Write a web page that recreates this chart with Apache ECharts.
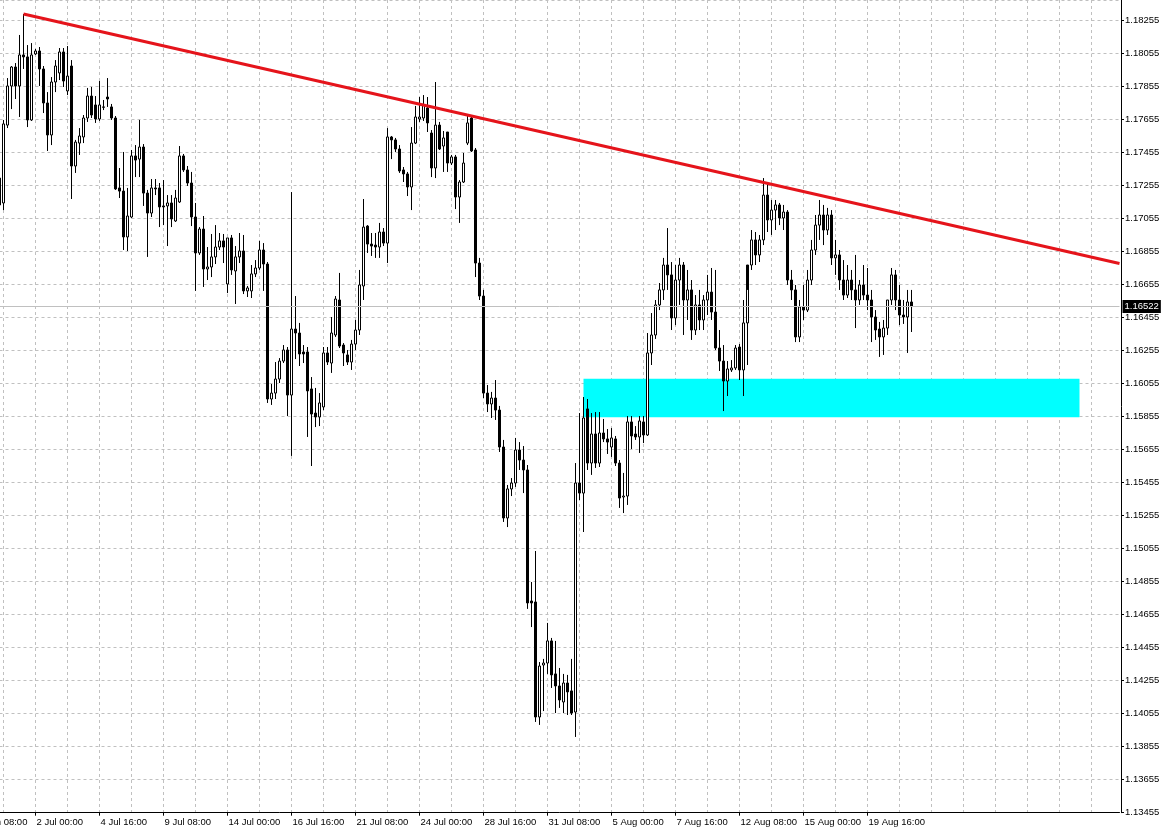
<!DOCTYPE html>
<html><head><meta charset="utf-8">
<script src="https://cdn.jsdelivr.net/npm/echarts@6/dist/echarts.min.js"></script>
<style>html,body{margin:0;padding:0;background:#fff;overflow:hidden}#c{width:1166px;height:833px}</style>
</head><body><div id="c"></div>
<script>
// H4 EURUSD-style bars. Slot 0 = 27 Jun 00:00; candles start at slot 9.
const firstSlotTime = '2025-06-27T00:00:00Z';
const slotCount = 290;
const firstCandleSlot = 9;

const opens = [
1.17301,1.17150,1.17622,1.17859,1.17974,1.17859,1.18047,1.18035,1.17653,1.18053,1.18071,
1.17962,1.17756,1.17562,1.17883,1.17938,1.18065,1.17829,1.17980,1.17374,1.17513,
1.17550,1.17665,1.17798,1.17744,1.17659,1.17732,1.17792,1.17732,1.17665,1.17241,
1.17222,1.16944,1.17065,1.17435,1.17416,1.17489,1.17210,1.17089,1.17241,1.17241,
1.17132,1.17132,1.17150,1.17041,1.17156,1.17435,1.17350,1.17271,1.17065,1.16847,
1.16992,1.16750,1.16762,1.16823,1.16883,1.16920,1.16659,1.16938,1.16738,1.16823,
1.16859,1.16617,1.16617,1.16720,1.16756,1.16865,1.16780,1.15962,1.15998,1.16083,
1.16192,1.16259,1.15986,1.16386,1.16362,1.16247,1.16247,1.16023,1.15877,1.15853,
1.15914,1.16241,1.16180,1.16350,1.16562,1.16289,1.16229,1.16186,1.16295,1.16380,
1.16647,1.17010,1.16901,1.16895,1.16883,1.16974,1.16907,1.17550,1.17532,1.17477,
1.17350,1.17326,1.17247,1.17513,1.17659,1.17665,1.17726,1.17574,1.17362,1.17622,
1.17495,1.17580,1.17392,1.17429,1.17186,1.17277,1.17513,1.17665,1.17471,1.16786,
1.16586,1.15998,1.15932,1.15968,1.15895,1.15671,1.15241,1.15417,1.15453,1.15653,
1.15592,1.15532,1.14738,1.14732,1.14035,1.14350,1.14362,1.14496,1.14296,1.14223,
1.14126,1.14241,1.14193,1.14065,1.15453,1.15392,1.15902,1.15574,1.15750,1.15574,
1.15756,1.15720,1.15671,1.15720,1.15574,1.15368,1.15374,1.15823,1.15750,1.15732,
1.15823,1.15744,1.16241,1.16350,1.16532,1.16623,1.16774,1.16714,1.16453,1.16683,
1.16774,1.16562,1.16623,1.16380,1.16532,1.16441,1.16562,1.16610,1.16489,1.16271,
1.16192,1.16071,1.16138,1.16150,1.16277,1.16138,1.16423,1.16774,1.16926,1.16835,
1.16926,1.17198,1.17047,1.17107,1.17138,1.17059,1.17095,1.16683,1.16623,1.16338,
1.16520,1.16501,1.16683,1.16865,1.17016,1.17077,1.16986,1.17077,1.16817,1.16835,
1.16683,1.16592,1.16683,1.16623,1.16562,1.16653,1.16592,1.16562,1.16459,1.16386,
1.16338,1.16392,1.16562,1.16714,1.16562,1.16471,1.16459,1.16550];

const highs = [
1.17350,1.17653,1.17907,1.17980,1.17998,1.18168,1.18295,1.18107,1.18119,1.18083,1.18095,
1.17980,1.17822,1.17913,1.18016,1.18089,1.18089,1.18101,1.18016,1.17532,1.17604,
1.17683,1.17847,1.17853,1.17798,1.17889,1.17774,1.17907,1.17750,1.17677,1.17362,
1.17459,1.17241,1.17471,1.17501,1.17653,1.17507,1.17229,1.17295,1.17295,1.17271,
1.17289,1.17198,1.17198,1.17229,1.17495,1.17447,1.17374,1.17338,1.17150,1.17004,
1.17071,1.16883,1.16962,1.17016,1.16968,1.16962,1.16938,1.16956,1.16889,1.16968,
1.16956,1.16647,1.16774,1.16804,1.16920,1.16907,1.16792,1.16053,1.16186,1.16210,
1.16289,1.16277,1.17216,1.16586,1.16423,1.16289,1.16277,1.16095,1.16029,1.15998,
1.16277,1.16277,1.16459,1.16586,1.16726,1.16301,1.16259,1.16320,1.16441,1.16744,
1.17174,1.17016,1.16968,1.16968,1.17029,1.16998,1.17604,1.17556,1.17544,1.17501,
1.17368,1.17338,1.17610,1.17738,1.17792,1.17804,1.17792,1.17592,1.17883,1.17641,
1.17586,1.17580,1.17441,1.17441,1.17289,1.17453,1.17683,1.17671,1.17483,1.16817,
1.16623,1.16047,1.16005,1.16077,1.15920,1.15714,1.15441,1.15483,1.15726,1.15701,
1.15677,1.15562,1.14853,1.15041,1.14368,1.14387,1.14605,1.14514,1.14496,1.14332,
1.14296,1.14290,1.14387,1.15574,1.15877,1.15974,1.15962,1.15877,1.15883,1.15883,
1.15841,1.15780,1.15786,1.15738,1.15592,1.15514,1.15859,1.15859,1.15798,1.15859,
1.15859,1.16362,1.16483,1.16562,1.16665,1.16817,1.16998,1.16792,1.16774,1.16817,
1.16792,1.16744,1.16683,1.16592,1.16623,1.16592,1.16714,1.16756,1.16744,1.16380,
1.16289,1.16192,1.16198,1.16289,1.16295,1.16562,1.16623,1.16986,1.16974,1.16956,
1.17301,1.17271,1.17168,1.17168,1.17150,1.17138,1.17107,1.16744,1.16653,1.16562,
1.16653,1.16744,1.16926,1.17077,1.17168,1.17138,1.17120,1.17107,1.16926,1.16865,
1.16804,1.16774,1.16744,1.16835,1.16683,1.16774,1.16756,1.16623,1.16501,1.16429,
1.16441,1.16562,1.16756,1.16744,1.16653,1.16562,1.16623,1.16623];

const lows = [
1.17095,1.17107,1.17604,1.17719,1.17780,1.17671,1.17962,1.17610,1.17647,1.18047,1.17859,
1.17695,1.17465,1.17501,1.17822,1.17895,1.17853,1.17804,1.17174,1.17332,1.17441,
1.17513,1.17641,1.17665,1.17635,1.17647,1.17713,1.17732,1.17653,1.17229,1.17180,
1.16865,1.16859,1.17059,1.17307,1.17307,1.17132,1.16823,1.17065,1.17198,1.17004,
1.17016,1.16889,1.17004,1.17035,1.17150,1.17338,1.17253,1.17010,1.16617,1.16835,
1.16641,1.16683,1.16701,1.16780,1.16865,1.16786,1.16604,1.16714,1.16538,1.16786,
1.16598,1.16580,1.16574,1.16701,1.16744,1.16617,1.15938,1.15926,1.15962,1.16059,
1.16180,1.15859,1.15617,1.16204,1.16162,1.16180,1.15732,1.15556,1.15792,1.15798,
1.15895,1.16168,1.16120,1.16338,1.16271,1.16162,1.16168,1.16138,1.16259,1.16350,
1.16562,1.16847,1.16829,1.16817,1.16817,1.16889,1.16786,1.17416,1.17459,1.17332,
1.17277,1.17192,1.17107,1.17507,1.17641,1.17647,1.17580,1.17307,1.17301,1.17471,
1.17338,1.17338,1.17380,1.17113,1.17029,1.17271,1.17501,1.17459,1.16701,1.16562,
1.15968,1.15883,1.15847,1.15835,1.15641,1.15217,1.15186,1.15374,1.15429,1.15532,
1.15392,1.14690,1.14580,1.14005,1.13987,1.14071,1.14296,1.14211,1.14059,1.14090,
1.14059,1.14047,1.14047,1.13914,1.15350,1.15156,1.15532,1.15502,1.15544,1.15550,
1.15701,1.15629,1.15611,1.15556,1.15302,1.15271,1.15320,1.15659,1.15714,1.15635,
1.15695,1.15738,1.16168,1.16326,1.16501,1.16562,1.16623,1.16380,1.16410,1.16532,
1.16350,1.16441,1.16320,1.16350,1.16380,1.16380,1.16471,1.16441,1.16259,1.16132,
1.15889,1.15980,1.16126,1.16138,1.16077,1.15980,1.16168,1.16744,1.16774,1.16792,
1.16895,1.16974,1.16956,1.16986,1.17016,1.16986,1.16653,1.16562,1.16307,1.16307,
1.16441,1.16489,1.16653,1.16835,1.16926,1.16895,1.16956,1.16774,1.16714,1.16623,
1.16562,1.16574,1.16562,1.16392,1.16532,1.16562,1.16501,1.16307,1.16320,1.16217,
1.16229,1.16350,1.16532,1.16501,1.16410,1.16417,1.16241,1.16368];

const closes = [
1.17138,1.17629,1.17859,1.17974,1.17859,1.18047,1.18035,1.17653,1.18047,1.18071,1.17962,
1.17756,1.17562,1.17883,1.17980,1.18065,1.17889,1.17919,1.17374,1.17519,1.17556,
1.17665,1.17798,1.17683,1.17659,1.17744,1.17730,1.17780,1.17665,1.17235,1.17222,
1.16944,1.17071,1.17435,1.17410,1.17489,1.17210,1.17089,1.17241,1.17235,1.17126,
1.17126,1.17150,1.17053,1.17180,1.17435,1.17350,1.17271,1.17065,1.16847,1.16992,
1.16750,1.16762,1.16823,1.16883,1.16920,1.16883,1.16938,1.16744,1.16823,1.16859,
1.16617,1.16635,1.16720,1.16756,1.16865,1.16780,1.15962,1.15998,1.16083,1.16192,
1.16259,1.15986,1.16386,1.16362,1.16235,1.16235,1.16011,1.15871,1.15853,1.15938,
1.16241,1.16186,1.16362,1.16568,1.16283,1.16241,1.16186,1.16295,1.16380,1.16653,
1.17004,1.16901,1.16889,1.16883,1.16974,1.16907,1.17550,1.17532,1.17477,1.17344,
1.17326,1.17247,1.17513,1.17671,1.17671,1.17744,1.17635,1.17362,1.17622,1.17477,
1.17544,1.17392,1.17429,1.17186,1.17277,1.17392,1.17635,1.17465,1.16786,1.16586,
1.15998,1.15932,1.15968,1.15895,1.15671,1.15241,1.15417,1.15453,1.15653,1.15592,
1.15532,1.14726,1.14726,1.14035,1.14344,1.14362,1.14496,1.14290,1.14223,1.14138,
1.14241,1.14187,1.14059,1.15453,1.15392,1.15847,1.15574,1.15750,1.15574,1.15756,
1.15720,1.15701,1.15726,1.15574,1.15362,1.15374,1.15823,1.15738,1.15732,1.15829,
1.15744,1.16241,1.16350,1.16532,1.16623,1.16774,1.16714,1.16453,1.16683,1.16774,
1.16562,1.16623,1.16380,1.16532,1.16441,1.16562,1.16610,1.16489,1.16271,1.16192,
1.16071,1.16144,1.16150,1.16271,1.16138,1.16423,1.16774,1.16926,1.16835,1.16926,
1.17198,1.17047,1.17107,1.17138,1.17059,1.17095,1.16683,1.16623,1.16338,1.16520,
1.16501,1.16683,1.16865,1.17016,1.17077,1.16986,1.17077,1.16817,1.16835,1.16683,
1.16592,1.16683,1.16623,1.16562,1.16653,1.16592,1.16562,1.16459,1.16380,1.16338,
1.16392,1.16562,1.16714,1.16562,1.16471,1.16459,1.16550,1.16522];

const lastPrice = 1.16522;
const priceTicks = {min: 1.13455, max: 1.18380, step: 0.002};
// time-label every 16 bars, first at slot 2 (27 Jun 08:00), last at slot 226 (19 Aug 16:00)
const timeLabelFirstSlot = 2, timeLabelStep = 16, timeLabelLastSlot = 226;
const gridLineStep = 8;
// red trend line endpoints: [slot, price]
const trendStart = [15, 1.18295];
const trendEnd = [289, 1.16783];
// cyan zone: [fromSlot, toSlot, topPrice, bottomPrice]
const zone = [155, 279, 1.16085, 1.15851];

const MONTHS = ['Jan','Feb','Mar','Apr','May','Jun','Jul','Aug','Sep','Oct','Nov','Dec'];
const categories = [];
let t = Date.parse(firstSlotTime);
while (categories.length < slotCount) {
  const d = new Date(t); const wd = d.getUTCDay();
  if (wd !== 0 && wd !== 6) {
    categories.push(d.getUTCDate() + ' ' + MONTHS[d.getUTCMonth()] + ' ' + String(d.getUTCHours()).padStart(2,'0') + ':00');
  }
  t += 4 * 3600e3;
}

const candleData = categories.map(() => '-');
for (let j = 0; j < opens.length; j++) {
  candleData[firstCandleSlot + j] = [opens[j], closes[j], lows[j], highs[j]];
}
const trendData = categories.map(() => '-');
trendData[trendStart[0]] = trendStart[1];
trendData[trendEnd[0]] = trendEnd[1];
const emptyData = categories.map(() => '-');

const FONT = '"Liberation Sans", Arial, sans-serif';
const labelSlot = (idx) => idx >= timeLabelFirstSlot && idx <= timeLabelLastSlot && (idx - timeLabelFirstSlot) % timeLabelStep === 0;

const chart = echarts.init(document.getElementById('c'), null, {renderer: 'canvas'});
chart.setOption({
  animation: false,
  backgroundColor: '#ffffff',
  grid: {left: -36.5, right: 46.5, top: 0, bottom: 20.3, outerBoundsMode: 'none', containLabel: false},
  xAxis: {
    type: 'category', data: categories, boundaryGap: false,
    axisLine: {show: true, onZero: false, lineStyle: {color: '#000', width: 1}},
    axisTick: {show: true, length: 3, interval: (i) => labelSlot(i), lineStyle: {color: '#000'}},
    axisLabel: {show: true, interval: (i) => labelSlot(i), align: 'left', margin: 5,
      color: '#000', fontSize: 9.5, fontFamily: FONT, padding: [0, 0, 0, 1], hideOverlap: false},
    splitLine: {show: true, interval: (i) => ((i - 10) % gridLineStep + gridLineStep) % gridLineStep === 0,
      lineStyle: {color: '#c0c0c0', type: [3, 3], width: 1}}
  },
  yAxis: {
    type: 'value', position: 'right', offset: 1.5, scale: true,
    min: priceTicks.min, max: priceTicks.max, interval: priceTicks.step,
    axisLine: {show: true, lineStyle: {color: '#000', width: 1}},
    axisTick: {show: true, length: 3, lineStyle: {color: '#000'}},
    axisLabel: {color: '#000', fontSize: 9.5, fontFamily: FONT, margin: 4, showMaxLabel: false,
      formatter: (v) => v.toFixed(5)},
    splitLine: {show: true, lineStyle: {color: '#c0c0c0', type: [3, 3], width: 1}}
  },
  series: [
    {
      type: 'line', data: emptyData, z: 1, silent: true, symbol: 'none',
      markArea: {silent: true, itemStyle: {color: '#00ffff', opacity: 1},
        data: [[{xAxis: categories[zone[0]], yAxis: zone[2]}, {xAxis: categories[zone[1]], yAxis: zone[3]}]]}
    },
    {
      type: 'candlestick', data: candleData, z: 3, barWidth: 2, silent: true,
      itemStyle: {color: '#ffffff', color0: '#000000', borderColor: '#000000', borderColor0: '#000000',
        borderColorDoji: '#000000', borderWidth: 1}
    },
    {
      type: 'line', data: emptyData, z: 4, silent: true, symbol: 'none',
      markLine: {silent: true, symbol: 'none', animation: false, precision: 5,
        lineStyle: {color: '#c0c0c0', type: 'solid', width: 1},
        label: {show: true, position: 'end', distance: 3, formatter: () => lastPrice.toFixed(5),
          backgroundColor: '#000', color: '#fff', fontSize: 9.5, fontFamily: FONT, padding: [2, 2, 1, 2]},
        data: [{yAxis: lastPrice}]}
    },
    {
      type: 'line', data: trendData, connectNulls: true, z: 5, symbol: 'none', silent: true,
      lineStyle: {color: '#e5141b', width: 3}
    }
  ]
});
</script></body></html>
